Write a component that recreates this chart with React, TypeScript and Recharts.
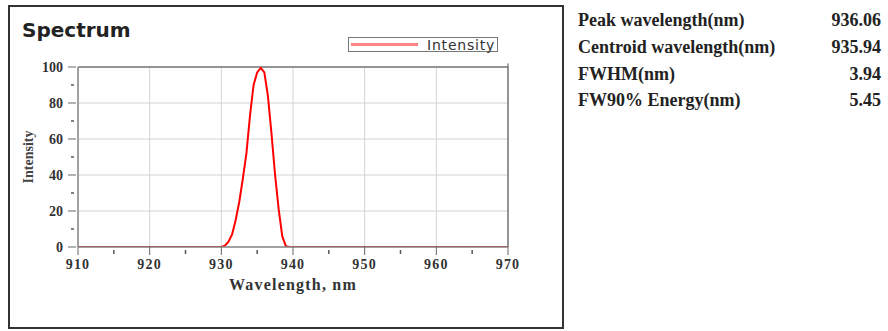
import React from "react";
import { LineChart, Line, XAxis, YAxis, CartesianGrid, Legend, ReferenceLine, Label } from "recharts";

// spectrum samples (nm, %)
const wavelengths = [910, 930, 930.5, 931, 931.5, 932, 932.5, 933, 933.5, 934, 934.5, 935, 935.5, 936, 936.5, 937, 937.5, 938, 938.5, 939, 939.5, 940, 970];
const intensity = [0, 0, 0.8, 3, 7, 15, 25, 38, 52, 73, 90, 97, 99.5, 97, 84, 63, 40, 21, 6, 0.5, 0, 0, 0];

const xTicks = [910, 915, 920, 925, 930, 935, 940, 945, 950, 955, 960, 965, 970];
const yTicks = [0, 10, 20, 30, 40, 50, 60, 70, 80, 90, 100];
const xGrid = [910, 920, 930, 940, 950, 960, 970];
const yGrid = [0, 20, 40, 60, 80, 100];

const statLabels = ["Peak wavelength(nm)", "Centroid wavelength(nm)", "FWHM(nm)", "FW90% Energy(nm)"];
const statValues = ["936.06", "935.94", "3.94", "5.45"];

const data = wavelengths.map((wl, i) => ({ wl, intensity: intensity[i] }));

const serif = "'Liberation Serif', 'Times New Roman', serif";
const sans = "'DejaVu Sans', Verdana, sans-serif";

const XTick = (props: any) => {
  const { x, y, payload } = props;
  if (payload.value % 10 !== 0) {
    return <line x1={x} y1={y + 3} x2={x} y2={y + 7} stroke="#555" strokeWidth={1.5} />;
  }
  return (
    <g>
      <line x1={x} y1={y} x2={x} y2={y + 8} stroke="#666" />
      <text x={x} y={y + 22} textAnchor="middle" fontFamily={serif} fontWeight="bold" fontSize={14} letterSpacing={1.2} fill="#333">
        {payload.value}
      </text>
    </g>
  );
};

const YTick = (props: any) => {
  const { x, y, payload } = props;
  if (payload.value % 20 !== 0) {
    return <line x1={x - 7} y1={y} x2={x - 4} y2={y} stroke="#555" strokeWidth={1.5} />;
  }
  return (
    <g>
      <line x1={x - 10} y1={y} x2={x - 2} y2={y} stroke="#666" />
      <text x={x - 15} y={y + 5} textAnchor="end" fontFamily={serif} fontWeight="bold" fontSize={14} fill="#333">
        {payload.value}
      </text>
    </g>
  );
};

const LegendBox = (props: any) => {
  const item = props.payload && props.payload[0];
  return (
    <div style={{ width: 150, height: 15, border: "1px solid #777", display: "flex", alignItems: "center", background: "#fff", boxSizing: "border-box" }}>
      <span style={{ display: "inline-block", width: 67, height: 3, background: "#ff8585", marginLeft: 2 }} />
      <span style={{ marginLeft: 9, fontFamily: sans, fontSize: 14, letterSpacing: 0.8, color: "#333", lineHeight: "14px" }}>
        {item ? item.value : "Intensity"}
      </span>
    </div>
  );
};

export default function App() {
  return (
    <div style={{ position: "absolute", left: 0, top: 0, width: 888, height: 331, background: "#fff" }}>
      <div style={{ position: "absolute", left: 8, top: 5, width: 556, height: 324, border: "2px solid #333", boxSizing: "border-box" }} />
      <div style={{ position: "absolute", left: 22, top: 20, fontFamily: sans, fontWeight: "bold", fontSize: 20, lineHeight: "20px", color: "#222" }}>
        Spectrum
      </div>

      <div style={{ position: "absolute", left: 0, top: 0 }}>
        <LineChart width={560} height={331} data={data} margin={{ top: 67, right: 52, bottom: 54, left: 38 }}>
          <CartesianGrid stroke="#d4d4d4" horizontalValues={yGrid} verticalValues={xGrid} />
          <XAxis
            type="number"
            dataKey="wl"
            domain={[910, 970]}
            ticks={xTicks}
            interval={0}
            height={30}
            tickSize={0}
            tickMargin={0}
            tickLine={false}
            tick={<XTick />}
            axisLine={{ stroke: "#888", strokeWidth: 1.5 }}
            allowDataOverflow
          >
            <Label
              content={(p: any) => {
                const vb = p.viewBox;
                return (
                  <text x={vb.x + vb.width / 2} y={vb.y + 43} textAnchor="middle" fontFamily={serif} fontWeight="bold" fontSize={16} letterSpacing={1.2} fill="#333">
                    Wavelength, nm
                  </text>
                );
              }}
            />
          </XAxis>
          <YAxis
            type="number"
            domain={[0, 100]}
            ticks={yTicks}
            interval={0}
            width={40}
            tickSize={0}
            tickMargin={0}
            tickLine={false}
            tick={<YTick />}
            axisLine={{ stroke: "#888", strokeWidth: 1.5 }}
            allowDataOverflow
          >
            <Label
              content={(p: any) => {
                const vb = p.viewBox;
                const cx = vb.x - 10;
                const cy = vb.y + vb.height / 2;
                return (
                  <text x={cx} y={cy} transform={`rotate(-90, ${cx}, ${cy})`} textAnchor="middle" dominantBaseline="central" fontFamily={serif} fontWeight="bold" fontSize={14} fill="#444">
                    Intensity
                  </text>
                );
              }}
            />
          </YAxis>
          <ReferenceLine y={100} stroke="#777" strokeWidth={1.5} />
          <ReferenceLine x={970} stroke="#777" strokeWidth={1.5} />
          <ReferenceLine segment={[{ x: 970, y: 100 }, { x: 970, y: 102 }]} stroke="#555" ifOverflow="visible" />
          <Legend layout="vertical" align="center" verticalAlign="middle" content={<LegendBox />} wrapperStyle={{ left: 348, top: 37, width: 150, height: 15 }} />
          <Line type="linear" dataKey="intensity" name="Intensity" stroke="#ff0000" strokeWidth={2} dot={false} isAnimationActive={false} />
        </LineChart>
      </div>

      {statLabels.map((label, i) => (
        <div key={label} style={{ position: "absolute", left: 578, top: [11, 38, 65, 91][i], width: 303, display: "flex", justifyContent: "space-between", fontFamily: serif, fontWeight: "bold", fontSize: 18, lineHeight: "18px", color: "#222" }}>
          <span>{label}</span>
          <span>{statValues[i]}</span>
        </div>
      ))}
    </div>
  );
}
